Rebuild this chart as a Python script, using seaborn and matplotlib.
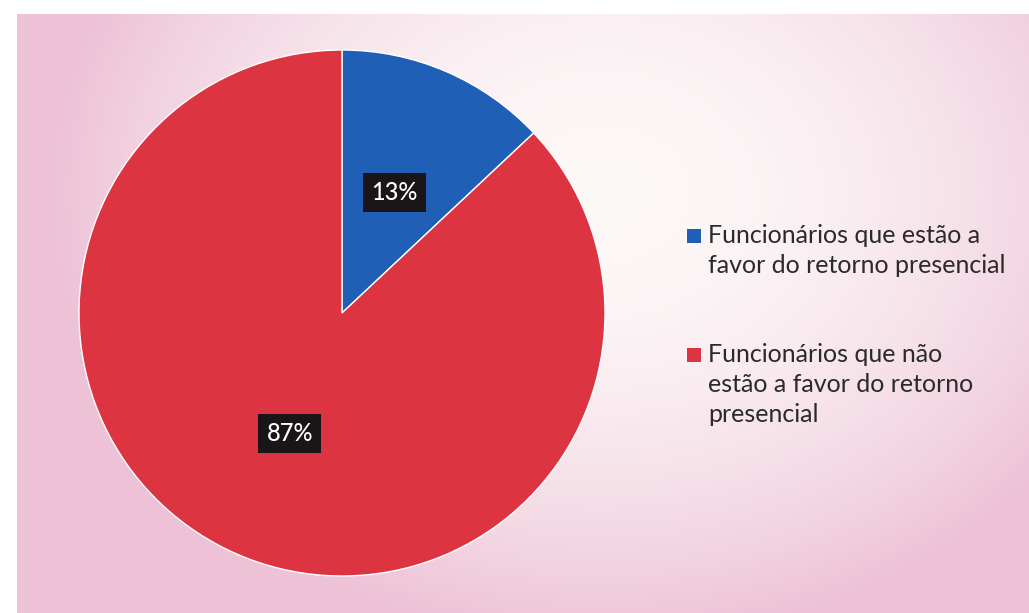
import matplotlib
matplotlib.use("Agg")
import matplotlib.pyplot as plt
import seaborn as sns
import numpy as np
from matplotlib.patches import Rectangle

categories = ["Funcionários que estão a\nfavor do retorno presencial",
              "Funcionários que não\nestão a favor do retorno\npresencial"]
values = [13, 87]
colors = ["#1F5FB5", "#DC3440"]

sns.set_theme(style="white")
plt.rcParams['font.family'] = ['Lato', 'DejaVu Sans']

W, H = 1029, 613
fig = plt.figure(figsize=(W / 100, H / 100), dpi=100, facecolor="white")

# background: pink scanned-paper style gradient
bg = fig.add_axes([17 / W, 0, (W - 17) / W, (H - 14) / H])
bg.axis("off")
yy, xx = np.mgrid[0:1:200j, 0:1:300j]
d = np.sqrt(((xx - 0.58) / 0.55) ** 2 + ((yy - 0.3) / 0.75) ** 2)
t = np.clip(d, 0, 1) ** 2
edge = np.array([0.93, 0.76, 0.84])
centre = np.array([0.99, 0.97, 0.97])
img = centre[None, None, :] * (1 - t[..., None]) + edge[None, None, :] * t[..., None]
bg.imshow(img, aspect="auto", extent=(0, 1, 1, 0), interpolation="bilinear")
bg.set_xlim(0, 1)
bg.set_ylim(1, 0)

cx, cy, r = 342, 313, 263
ax = fig.add_axes([(cx - r) / W, (H - cy - r) / H, 2 * r / W, 2 * r / H])
ax.set_facecolor("none")
palette = sns.color_palette(colors)
wedges, texts, autotexts = ax.pie(
    values, colors=palette, startangle=90, counterclock=False,
    autopct=lambda p: f"{p:.0f}%", pctdistance=0.5,
    wedgeprops=dict(edgecolor="white", linewidth=1),
    textprops=dict(color="white", fontsize=17, fontweight="medium"))
for a in autotexts:
    a.set_bbox(dict(facecolor="#1A1518", edgecolor="none", boxstyle="square,pad=0.35"))
ax.set_xlim(-1, 1)
ax.set_ylim(-1, 1)
ax.set_aspect("equal")
ax.axis("off")

# legend drawn manually so each square aligns with the first line of its entry
entry_tops = [243, 362]   # baseline (px) of first line of each entry
line_gap = 30
for lab, col, base in zip(categories, palette, entry_tops):
    fig.add_artist(Rectangle((687 / W, 1 - base / H), 14 / W, 14 / H,
                             transform=fig.transFigure, facecolor=col, edgecolor="none"))
    for i, line in enumerate(lab.split("\n")):
        fig.text(708 / W, 1 - (base + i * line_gap) / H, line, fontsize=18,
                 color="#2A2A2A", va="baseline", ha="left")

fig.savefig("out.png", dpi=100, facecolor=fig.get_facecolor())
